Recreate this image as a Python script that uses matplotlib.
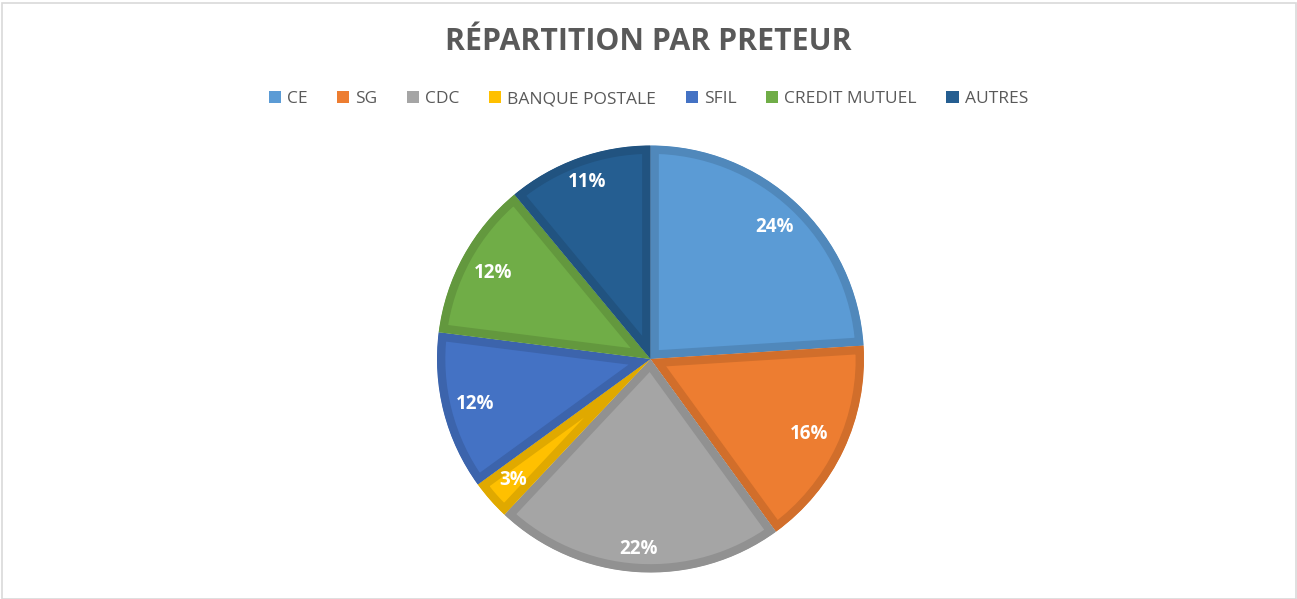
import matplotlib
matplotlib.use("Agg")
import matplotlib.pyplot as plt
from matplotlib.patches import Patch, Rectangle
import matplotlib.colors as mcolors
import numpy as np

labels = ["CE", "SG", "CDC", "BANQUE POSTALE", "SFIL", "CREDIT MUTUEL", "AUTRES"]
values = [24, 16, 22, 3, 12, 12, 11]
colors = ["#5B9BD5", "#ED7D31", "#A5A5A5", "#FFC000", "#4472C4", "#70AD47", "#255E91"]
title = "RÉPARTITION PAR PRETEUR"
label_dist = [0.85, 0.82, 0.89, 0.86, 0.85, 0.84, 0.88]

def darker(c, f=0.88):
    r, g, b = mcolors.to_rgb(c)
    return (r * f, g * f, b * f)

W, H = 1297, 599
fig = plt.figure(figsize=(W / 100, H / 100), dpi=100)
fig.patch.set_facecolor("white")

cx, cy, R = 650.5, 599 - 359, 213.5
ax = fig.add_axes([(cx - R) / W, (cy - R) / H, 2 * R / W, 2 * R / H])
wedges, texts, autotexts = ax.pie(
    values, colors=colors, startangle=90, counterclock=False,
    autopct="%1.0f%%", pctdistance=0.85, radius=1,
    textprops=dict(color="white", fontsize=13.5, fontweight="bold", family="Open Sans"),
)
for w, c, t, d in zip(wedges, colors, autotexts, label_dist):
    w.set_edgecolor(darker(c))
    w.set_linewidth(12)
    w.set_clip_on(True)
    w.set_clip_path(w.get_path(), w.get_transform())
    ang = np.deg2rad((w.theta1 + w.theta2) / 2)
    t.set_position((d * np.cos(ang), d * np.sin(ang)))
    t.set_clip_on(False)
    t.set_zorder(10)
ax.set_xlim(-1, 1)
ax.set_ylim(-1, 1)
ax.set_aspect("equal")
ax.axis("off")

fig.text(0.5, 1 - 42 / H, title, ha="center", va="center", fontsize=21.8,
         fontweight="bold", color="#595959", family="Open Sans")

handles = [Patch(facecolor=c, edgecolor="none") for c in colors]
leg = fig.legend(handles, labels, loc="center", bbox_to_anchor=(0.5, 1 - 99 / H),
                 ncol=7, frameon=False, handlelength=0.7, handleheight=0.7,
                 handletextpad=0.35, columnspacing=1.7,
                 prop=dict(family="Open Sans", size=12.5))
for t in leg.get_texts():
    t.set_color("#595959")

fig.add_artist(Rectangle((1.5 / W, 0), (W - 3) / W, 1 - 2.5 / H, transform=fig.transFigure,
                         fill=False, edgecolor="#D9D9D9", linewidth=1.2))

fig.savefig("out.png", dpi=100, facecolor="white")
